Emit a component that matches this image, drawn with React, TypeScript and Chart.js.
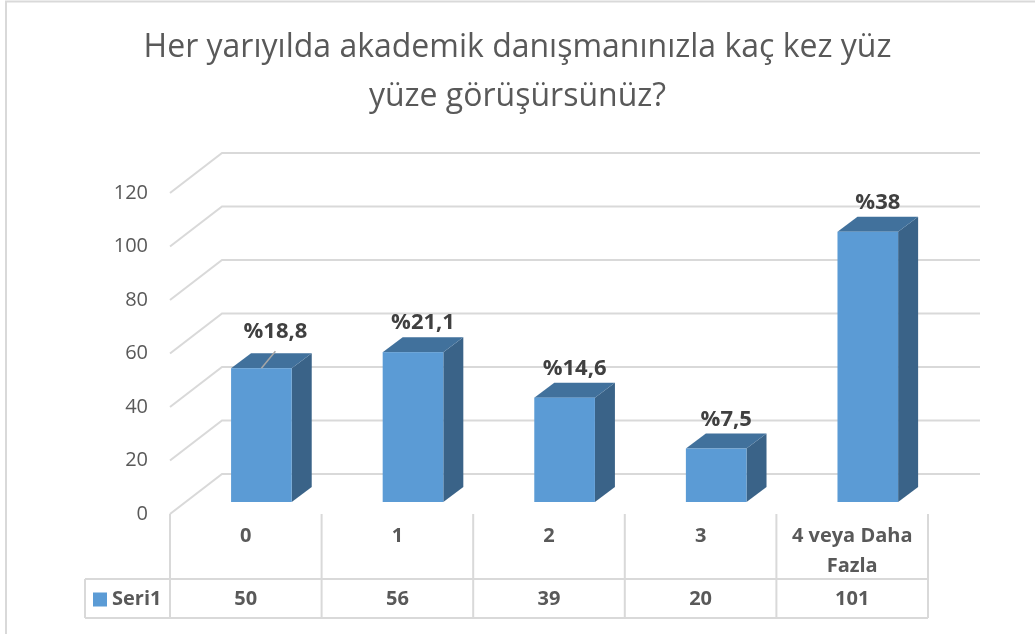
import React, { useEffect, useRef } from 'react';
import { Chart, registerables } from 'chart.js';

Chart.register(...registerables);

const titleLines = ['Her yarıyılda akademik danışmanınızla kaç kez yüz', 'yüze görüşürsünüz?'];
const categories: (string | string[])[] = ['0', '1', '2', '3', ['4 veya Daha', 'Fazla']];
const seriesName = 'Seri1';
const values = [50, 56, 39, 20, 101];
const percentLabels = ['%18,8', '%21,1', '%14,6', '%7,5', '%38'];
const yMin = 0;
const yMax = 120;
const yStep = 20;

const FONT = '"Open Sans", Lato, sans-serif';
const TEXT = '#595959';
const GRID = '#d9d9d9';
const FRONT = '#5b9bd5';
const TOP = '#41719c';
const SIDE = '#3a6388';

// 3D geometry
const DEPTH_X = 52;
const DEPTH_Y = 40;
const BAR_OFF_X = 15.6;
const BAR_OFF_Y = 12;
const BAR_SIDE_X = 20;
const BAR_SIDE_Y = 15;

const threeD = {
  id: 'threeD',
  beforeDraw(chart: any) {
    const { ctx, width, height } = chart;
    ctx.save();
    ctx.fillStyle = '#ffffff';
    ctx.fillRect(0, 0, width, height);
    ctx.strokeStyle = GRID;
    ctx.lineWidth = 2;
    ctx.beginPath();
    ctx.moveTo(6, height);
    ctx.lineTo(6, 1.5);
    ctx.lineTo(width, 1.5);
    ctx.stroke();
    ctx.restore();
  },
  beforeDatasetsDraw(chart: any) {
    const { ctx, chartArea, scales } = chart;
    const y = scales.y;
    ctx.save();
    ctx.strokeStyle = GRID;
    ctx.lineWidth = 2;
    y.ticks.forEach((t: any) => {
      const py = y.getPixelForValue(t.value);
      ctx.beginPath();
      ctx.moveTo(chartArea.left, py);
      ctx.lineTo(chartArea.left + DEPTH_X, py - DEPTH_Y);
      ctx.lineTo(chartArea.right + DEPTH_X, py - DEPTH_Y);
      ctx.stroke();
    });
    ctx.restore();
  },
  afterDatasetsDraw(chart: any) {
    const { ctx, chartArea, scales } = chart;
    const meta = chart.getDatasetMeta(0);
    const x = scales.x;
    ctx.save();
    meta.data.forEach((el: any, i: number) => {
      const p = el.getProps(['x', 'y', 'base', 'width'], true);
      const x0 = p.x - p.width / 2 + BAR_OFF_X;
      const x1 = p.x + p.width / 2 + BAR_OFF_X;
      const yt = p.y - BAR_OFF_Y;
      const yb = p.base - BAR_OFF_Y;
      // side
      ctx.fillStyle = SIDE;
      ctx.beginPath();
      ctx.moveTo(x1, yb);
      ctx.lineTo(x1 + BAR_SIDE_X, yb - BAR_SIDE_Y);
      ctx.lineTo(x1 + BAR_SIDE_X, yt - BAR_SIDE_Y);
      ctx.lineTo(x1, yt);
      ctx.closePath();
      ctx.fill();
      // top
      ctx.fillStyle = TOP;
      ctx.beginPath();
      ctx.moveTo(x0, yt);
      ctx.lineTo(x0 + BAR_SIDE_X, yt - BAR_SIDE_Y);
      ctx.lineTo(x1 + BAR_SIDE_X, yt - BAR_SIDE_Y);
      ctx.lineTo(x1, yt);
      ctx.closePath();
      ctx.fill();
      // front
      ctx.fillStyle = FRONT;
      ctx.fillRect(x0, yt, x1 - x0, yb - yt);

      // data label
      const cx = (x0 + x1) / 2;
      let ly = yt - BAR_SIDE_Y - 14;
      let lx = cx + 10;
      if (i === 0) {
        ly = yt - BAR_SIDE_Y - 21;
        lx = cx + 14;
        ctx.strokeStyle = '#a6a6a6';
        ctx.lineWidth = 1.5;
        ctx.beginPath();
        ctx.moveTo(cx, yt);
        ctx.lineTo(cx + 14, yt - 17);
        ctx.stroke();
      }
      ctx.fillStyle = '#404040';
      ctx.font = `bold 22px ${FONT}`;
      ctx.textAlign = 'center';
      ctx.textBaseline = 'middle';
      ctx.fillText(percentLabels[i], lx, ly);
    });

    // data table
    const bottom = chartArea.bottom;
    const row1 = bottom + 65;
    const row2 = bottom + 104;
    const tableLeft = 85;
    ctx.strokeStyle = GRID;
    ctx.lineWidth = 2;
    ctx.beginPath();
    ctx.moveTo(tableLeft, row1);
    ctx.lineTo(chartArea.right, row1);
    ctx.moveTo(tableLeft, row2);
    ctx.lineTo(chartArea.right, row2);
    ctx.moveTo(tableLeft, row1);
    ctx.lineTo(tableLeft, row2);
    const n = categories.length;
    const catW = (chartArea.right - chartArea.left) / n;
    for (let i = 0; i <= n; i++) {
      const vx = chartArea.left + i * catW;
      ctx.moveTo(vx, bottom);
      ctx.lineTo(vx, row2);
    }
    ctx.stroke();

    const midY = (row1 + row2) / 2 + 1;
    ctx.fillStyle = FRONT;
    ctx.fillRect(93, midY - 7, 14, 14);
    ctx.fillStyle = TEXT;
    ctx.font = `bold 20px ${FONT}`;
    ctx.textAlign = 'left';
    ctx.textBaseline = 'middle';
    ctx.fillText(seriesName, 112, midY);
    ctx.textAlign = 'center';
    values.forEach((v, i) => {
      ctx.fillText(String(v), x.getPixelForValue(i), midY);
    });
    ctx.restore();
  },
};

export default function App() {
  const ref = useRef<HTMLCanvasElement | null>(null);
  useEffect(() => {
    if (!ref.current) return;
    const chart = new Chart(ref.current, {
      type: 'bar',
      data: {
        labels: categories as any,
        datasets: [
          {
            label: seriesName,
            data: values,
            backgroundColor: 'rgba(0,0,0,0)',
            borderWidth: 0,
            barPercentage: 0.4,
            categoryPercentage: 1,
          },
        ],
      },
      options: {
        responsive: false,
        devicePixelRatio: 1,
        animation: false,
        layout: { padding: 0 },
        plugins: {
          legend: { display: false },
          tooltip: { enabled: false },
          title: {
            display: true,
            text: titleLines,
            color: TEXT,
            font: { family: FONT, size: 32, weight: 'normal', lineHeight: 1.53 },
            padding: { top: 23.5, bottom: 71.5 },
          },
        },
        scales: {
          x: {
            grid: { display: false, drawTicks: false },
            border: { display: false },
            ticks: {
              color: TEXT,
              font: { family: FONT, size: 20, weight: 'bold', lineHeight: 1.5 },
              padding: 7,
              maxRotation: 0,
              autoSkip: false,
            },
            afterFit: (s: any) => {
              s.height = 120;
            },
          },
          y: {
            min: yMin,
            max: yMax,
            grid: { display: false, drawTicks: false },
            border: { display: false },
            ticks: {
              stepSize: yStep,
              color: TEXT,
              padding: 22,
              font: { family: FONT, size: 20 },
            },
            afterFit: (s: any) => {
              s.width = 170;
            },
          },
          yRight: {
            type: 'linear',
            position: 'right',
            grid: { display: false, drawTicks: false },
            border: { display: false },
            ticks: { display: false },
            afterFit: (s: any) => {
              s.width = 107;
            },
          },
        },
      } as any,
      plugins: [threeD],
    });
    return () => chart.destroy();
  }, []);
  return (
    <div style={{ position: 'fixed', left: 0, top: 0, width: 1035, height: 634, background: '#fff' }}>
      <canvas ref={ref} width={1035} height={634} style={{ display: 'block' }} />
    </div>
  );
}
